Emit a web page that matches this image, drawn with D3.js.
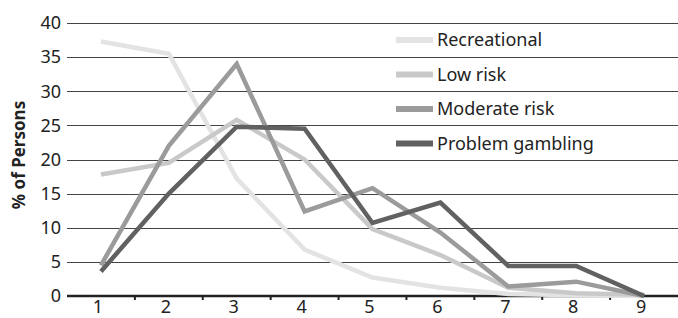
<!DOCTYPE html>
<meta charset="utf-8">
<style>
body { margin: 0; background: #fff; }
text { font-family: "Noto Sans", "Open Sans", sans-serif; fill: #222; }
.grid line { stroke: #444; stroke-width: 1; }
.series { fill: none; stroke-width: 4.5; stroke-linejoin: miter; }
</style>
<body>
<script src="https://d3js.org/d3.v7.min.js"></script>
<script>

var categories = ["1", "2", "3", "4", "5", "6", "7", "8", "9"];
var yTicks = [0, 5, 10, 15, 20, 25, 30, 35, 40];

var recreational = [37.3, 35.5, 17.2, 6.8, 2.7, 1.2, 0.3, 0.1, 0];
var lowRisk = [17.8, 19.5, 25.8, 20.0, 9.8, 6.0, 1.2, 0.4, 0.2];
var moderateRisk = [4.5, 22.0, 34.0, 12.4, 15.8, 9.3, 1.4, 2.1, 0];
var problemGambling = [3.6, 15.0, 24.8, 24.5, 10.7, 13.7, 4.4, 4.4, 0];

var seriesNames = ["Recreational", "Low risk", "Moderate risk", "Problem gambling"];
var seriesColors = ["#e3e3e3", "#c9c9c9", "#9b9b9b", "#616161"];

var series = [recreational, lowRisk, moderateRisk, problemGambling].map(function(v, i) {
  return {name: seriesNames[i], color: seriesColors[i], values: v};
});

var width = 678, height = 318,
    margin = {left: 67, right: 0, top: 23, bottom: 22};

var svg = d3.select("body").append("svg")
    .attr("width", width)
    .attr("height", height);

var x = d3.scaleBand()
    .domain(categories)
    .range([margin.left, width - margin.right]);

var y = d3.scaleLinear()
    .domain([0, 40])
    .range([height - margin.bottom, margin.top]);

// gridlines
svg.append("g")
    .attr("class", "grid")
  .selectAll("line")
  .data(yTicks.slice(1))
  .enter().append("line")
    .attr("x1", margin.left)
    .attr("x2", width)
    .attr("y1", function(d) { return Math.round(y(d)) + 0.5; })
    .attr("y2", function(d) { return Math.round(y(d)) + 0.5; });

// y tick labels
svg.append("g").selectAll("text")
  .data(yTicks)
  .enter().append("text")
    .attr("x", 61)
    .attr("y", function(d) { return y(d); })
    .attr("dy", "0.35em")
    .attr("text-anchor", "end")
    .style("font-size", "18px")
    .text(function(d) { return d; });

// x axis
var xAxis = svg.append("g")
    .attr("transform", "translate(0," + y(0) + ")");

xAxis.append("line")
    .attr("x1", margin.left)
    .attr("x2", width)
    .attr("stroke", "#222")
    .attr("stroke-width", 2.5);

xAxis.selectAll(".tick")
  .data(categories.slice(1))
  .enter().append("line")
    .attr("x1", function(d) { return x(d); })
    .attr("x2", function(d) { return x(d); })
    .attr("y1", 0)
    .attr("y2", 4)
    .attr("stroke", "#222")
    .attr("stroke-width", 2);

xAxis.selectAll("text")
  .data(categories)
  .enter().append("text")
    .attr("x", function(d) { return x(d) + x.bandwidth() / 2 - 3; })
    .attr("y", 17)
    .attr("text-anchor", "middle")
    .style("font-size", "18px")
    .text(function(d) { return d; });

// y title
svg.append("text")
    .attr("transform", "translate(25,155) rotate(-90)")
    .attr("text-anchor", "middle")
    .style("font-size", "17px")
    .style("font-weight", "bold")
    .text("% of Persons");

// lines
var line = d3.line()
    .x(function(d, i) { return x(categories[i]) + x.bandwidth() / 2; })
    .y(function(d) { return y(d); });

svg.append("g").selectAll("path")
  .data(series)
  .enter().append("path")
    .attr("class", "series")
    .attr("stroke", function(d) { return d.color; })
    .attr("d", function(d) { return line(d.values); });

// legend
var legend = svg.append("g").selectAll("g")
  .data(series)
  .enter().append("g")
    .attr("transform", function(d, i) { return "translate(396," + (40 + i * 34.5) + ")"; });

legend.append("rect")
    .attr("x", 0)
    .attr("y", -3)
    .attr("width", 37)
    .attr("height", 6)
    .attr("fill", function(d) { return d.color; });

legend.append("text")
    .attr("x", 41)
    .attr("dy", "0.35em")
    .style("font-size", "18px")
    .text(function(d) { return d.name; });

</script>
